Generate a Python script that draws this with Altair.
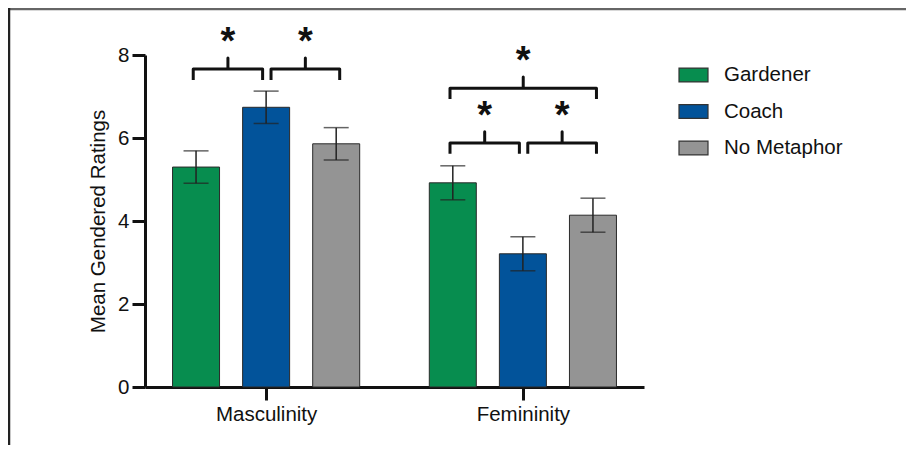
import altair as alt
import pandas as pd

# ---------------- data ----------------
categories = ["Masculinity", "Femininity"]
groups = ["Gardener", "Coach", "No Metaphor"]
means_masc = [5.30, 6.74, 5.86]
means_fem = [4.92, 3.21, 4.14]
err_masc = [0.39, 0.39, 0.39]
err_fem = [0.41, 0.41, 0.41]
colors = ["#078D4F", "#02539A", "#949494"]

# significance brackets: category, from group, to group, bracket level
sig_cat = ["Masculinity", "Masculinity", "Femininity", "Femininity", "Femininity"]
sig_from = ["Gardener", "Coach", "Gardener", "Coach", "Gardener"]
sig_to = ["Coach", "No Metaphor", "Coach", "No Metaphor", "No Metaphor"]
sig_level = [7.66, 7.66, 5.88, 5.88, 7.20]
sig_label = ["*", "*", "*", "*", "*"]

# ---------------- layout constants ----------------
GAP = 3.664          # distance between category centres, in bar slots
XMIN, XMAX = -1.657, 5.321
FONT = "Liberation Sans"

def xpos(cat, grp):
    return categories.index(cat) * GAP + groups.index(grp) - 1

rows = []
for cat, means, errs in [("Masculinity", means_masc, err_masc), ("Femininity", means_fem, err_fem)]:
    for g, m, e in zip(groups, means, errs):
        rows.append({"cat": cat, "group": g, "x": xpos(cat, g), "mean": m,
                     "lo": m - e, "hi": m + e})
bars = pd.DataFrame(rows)

brk = []
stars = []
for i, (c, a, b, lv, lab) in enumerate(zip(sig_cat, sig_from, sig_to, sig_level, sig_label)):
    x0 = xpos(c, a) + (0.07 if a == "Coach" else -0.04)
    x1 = xpos(c, b) + (-0.05 if b == "Coach" else 0.05)
    xm = (x0 + x1) / 2
    pts = [(x0, lv - 0.26), (x0, lv), (xm, lv), (xm, lv + 0.27), (xm, lv), (x1, lv), (x1, lv - 0.26)]
    for k, (px, py) in enumerate(pts):
        brk.append({"id": i, "k": k, "x": px, "y": py})
    stars.append({"x": xm, "y": lv + 0.62, "t": lab})
brk = pd.DataFrame(brk)
stars = pd.DataFrame(stars)

xscale = alt.Scale(domain=[XMIN, XMAX], nice=False, zero=False)
yscale = alt.Scale(domain=[0, 8], nice=False)

xaxis = alt.Axis(values=[0, GAP], labelExpr="datum.value < 1 ? 'Masculinity' : 'Femininity'",
                 title=None, grid=False, tickSize=13, tickWidth=3, domainWidth=3,
                 domainColor="#111", tickColor="#111", labelFontSize=20.5, labelFont=FONT,
                 labelColor="#111", labelPadding=4)
yaxis = alt.Axis(values=[0, 2, 4, 6, 8], title="Mean Gendered Ratings", grid=False,
                 tickSize=13, tickWidth=3, domainWidth=3, domainColor="#111", tickColor="#111",
                 labelFontSize=20.5, labelFont=FONT, labelColor="#111", labelPadding=3,
                 titleFontSize=20.5, titleFont=FONT, titleFontWeight="normal",
                 titleColor="#111", titlePadding=9)

base = alt.Chart(bars)

bar_layer = base.mark_bar(width=47, stroke="#2a2a2a", strokeWidth=1).encode(
    x=alt.X("x:Q", scale=xscale, axis=xaxis),
    y=alt.Y("mean:Q", scale=yscale, axis=yaxis),
    color=alt.Color("group:N", sort=groups,
                    scale=alt.Scale(domain=groups, range=colors),
                    legend=alt.Legend(title=None, orient="none", legendX=533, legendY=4.5,
                                      symbolType="M-1,-0.48H1V0.48H-1Z", symbolSize=841,
                                      symbolStrokeColor="#333", symbolStrokeWidth=1.2,
                                      symbolOpacity=1, labelFontSize=20.5, labelFont=FONT,
                                      labelColor="#111", labelOffset=15, rowPadding=10.5,
                                      padding=0)),
)

err_rule = base.mark_rule(color="#222", strokeWidth=1.5).encode(
    x="x:Q", y="lo:Q", y2="hi:Q")
err_hi = base.mark_tick(orient="horizontal", size=25, thickness=1.5, color="#222").encode(
    x="x:Q", y="hi:Q")
err_lo = base.mark_tick(orient="horizontal", size=25, thickness=1.5, color="#222").encode(
    x="x:Q", y="lo:Q")

bracket_layer = alt.Chart(brk).mark_line(color="#111", strokeWidth=3, strokeJoin="round",
                                         strokeCap="butt").encode(
    x="x:Q", y="y:Q", detail="id:N", order="k:Q")

star_layer = alt.Chart(stars).mark_text(font=FONT, fontSize=38, fontWeight="bold",
                                        color="#111", baseline="middle").encode(
    x="x:Q", y="y:Q", text="t:N")

one = pd.DataFrame({"a": [0]})
frame_top = alt.Chart(one).mark_rule(color="#666", strokeWidth=2.5).encode(
    x=alt.value(-137), x2=alt.value(761), y=alt.value(-46))
frame_left = alt.Chart(one).mark_rule(color="#222", strokeWidth=2.5).encode(
    x=alt.value(-136), y=alt.value(-47), y2=alt.value(400))

chart = alt.layer(frame_top, frame_left, bar_layer, err_rule, err_hi, err_lo,
                  bracket_layer, star_layer).properties(
    width=499, height=332,
    padding={"left": 137, "top": 47, "right": 262, "bottom": 58},
    autosize=alt.AutoSizeParams(type="none"),
    background="white",
).configure_view(stroke=None)

chart.save("out.html", embed_options={"renderer": "svg", "actions": False})
